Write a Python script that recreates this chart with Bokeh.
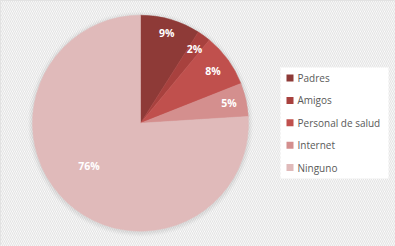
import math
from bokeh.plotting import figure
from bokeh.models import Range1d
from bokeh.core.properties import value
from bokeh.embed import file_html
from bokeh.resources import INLINE

categories = ["Padres", "Amigos", "Personal de salud", "Internet", "Ninguno"]
percent = [9, 2, 8, 5, 76]
colors = ["#8e3a37", "#a8413e", "#c0504d", "#d48f8e", "#e0baba"]

W, H = 395, 246
CX, CY, R = 140, 246 - 122.7, 108
label_r = [0.87, 0.85, 0.83, 0.84, 0.62]
label_shift = [0, 0, 0, 0, 7]

p = figure(width=W, height=H, output_backend="svg", toolbar_location=None,
           x_range=Range1d(0, W), y_range=Range1d(0, H), min_border=0)
p.axis.visible = False
p.grid.visible = False
p.outline_line_color = "#d9d9d9"
p.outline_line_width = 1
p.background_fill_color = "white"
p.border_fill_color = "white"

# striped background
p.quad(left=[0], right=[W], bottom=[0], top=[H], fill_color="white",
       line_color=None, hatch_pattern="\\", hatch_color="#e4e4e4",
       hatch_scale=4, hatch_weight=1.2)

# soft shadow
for i, a in enumerate([0.05, 0.05, 0.04, 0.03, 0.02]):
    p.circle(x=[CX], y=[CY - 1], radius=R + 1 + i, radius_units="screen",
             fill_color="#808080", fill_alpha=a, line_color=None)

total = sum(percent)
cum = 0
lx, ly, lt = [], [], []
for i, v in enumerate(percent):
    a0 = cum / total
    a1 = (cum + v) / total
    cum += v
    p.wedge(x=[CX], y=[CY], radius=R, radius_units="screen",
            start_angle=math.pi / 2 - 2 * math.pi * a0,
            end_angle=math.pi / 2 - 2 * math.pi * a1,
            direction="clock", fill_color=colors[i], line_color=colors[i],
            line_width=0.5)
    mid = (a0 + a1) / 2 * 360 + label_shift[i]
    rr = R * label_r[i]
    lx.append(CX + rr * math.sin(math.radians(mid)))
    ly.append(CY + rr * math.cos(math.radians(mid)))
    lt.append(f"{round(v / total * 100)}%")

p.text(x=lx, y=ly, text=lt, text_color="white", text_font=value("Open Sans"),
       text_font_size="10.5px", text_font_style="bold", text_align="center",
       text_baseline="middle")

# legend
p.quad(left=[280], right=[388], bottom=[H - 178], top=[H - 67],
       fill_color="white", line_color=None)
ys = [H - (77.5 + 22.4 * i) for i in range(len(categories))]
p.rect(x=[289.5] * len(categories), y=ys, width=7, height=7,
       width_units="screen", height_units="screen", fill_color=colors,
       line_color=None)
p.text(x=[297] * len(categories), y=ys, text=categories, text_color="#595959",
       text_font=value("Open Sans"), text_font_size="10px",
       text_baseline="middle", text_align="left")

open("out.html", "w").write(file_html(p, INLINE))
